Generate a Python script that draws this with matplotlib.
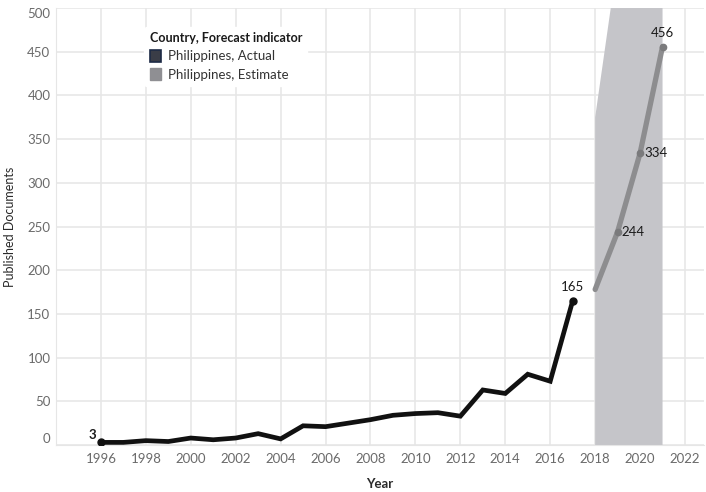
import matplotlib
matplotlib.use("Agg")
import matplotlib.pyplot as plt
from matplotlib.patches import Patch

plt.rcParams['font.family'] = ['Lato', 'DejaVu Sans']

# Philippines published documents, actual counts
years_actual = [1996, 1997, 1998, 1999, 2000, 2001, 2002, 2003, 2004, 2005, 2006,
                2007, 2008, 2009, 2010, 2011, 2012, 2013, 2014, 2015, 2016, 2017]
docs_actual = [3, 3, 5, 4, 8, 6, 8, 13, 7, 22, 21,
               25, 29, 34, 36, 37, 33, 63, 59, 81, 73, 165]

# Forecast estimate with its prediction interval
years_est = [2018, 2019, 2020, 2021]
docs_est = [178, 244, 334, 456]
band_upper = [375, 555, 720, 900]
band_lower = [0, -40, -80, -120]

x_ticks = list(range(1996, 2023, 2))
y_ticks = [0, 50, 100, 150, 200, 250, 300, 350, 400, 450, 500]

c_actual = '#111111'
c_est = '#8d8d8f'
c_band = '#c5c5c9'
c_grid = '#e6e6e6'
c_tick = '#6a6a6a'

fig = plt.figure(figsize=(7.06, 4.92), dpi=100)
ax = fig.add_axes([0.0793, 0.0955, 0.918, 0.888])

ax.fill_between(years_est, band_lower, band_upper, color=c_band, lw=0, zorder=1)
ax.plot(years_actual, docs_actual, color=c_actual, lw=3.4, solid_joinstyle='miter',
        solid_capstyle='round', zorder=3)
ax.plot([years_actual[0], years_actual[-1]], [docs_actual[0], docs_actual[-1]], 'o',
        color=c_actual, ms=5, zorder=4)
ax.plot(years_est, docs_est, color=c_est, lw=3.8, solid_capstyle='round', zorder=3)
ax.plot(years_est[1:], docs_est[1:], 'o', color='#7a7a7c', ms=4.5, zorder=4)

# Value labels
lab = dict(fontsize=9.5, color='#1a1a1a', zorder=5)
ax.text(years_actual[0] - 0.2, docs_actual[0] + 2, str(docs_actual[0]), ha='right', va='bottom',
        fontweight='bold', **lab)
ax.text(years_actual[-1], docs_actual[-1] + 9, str(docs_actual[-1]), ha='center', va='bottom', **lab)
ax.text(years_est[1] + 0.17, docs_est[1], str(docs_est[1]), ha='left', va='center', **lab)
ax.text(years_est[2] + 0.17, docs_est[2], str(docs_est[2]), ha='left', va='center', **lab)
ax.text(years_est[3], docs_est[3] + 9, str(docs_est[3]), ha='center', va='bottom', **lab)

ax.set_xlim(1994, 2022.85)
ax.set_ylim(0, 500)
ax.set_xticks(list(range(1994, 2023, 2)))
ax.set_xticklabels([''] + [str(y) for y in x_ticks])
ax.set_yticks(y_ticks)
ax.set_yticklabels([str(v) for v in y_ticks])
for t in ax.get_yticklabels():
    if t.get_text() == '0':
        t.set_verticalalignment('bottom')
    elif t.get_text() == '500':
        t.set_verticalalignment('top')

ax.grid(True, color=c_grid, lw=1.1, zorder=0)
ax.set_axisbelow(True)
for s in ['top', 'right']:
    ax.spines[s].set_visible(False)
ax.spines['left'].set_color(c_grid)
ax.spines['bottom'].set_color(c_grid)
ax.tick_params(axis='x', length=0, labelsize=9.5, colors=c_tick, pad=6)
ax.tick_params(axis='y', length=0, labelsize=9.5, colors=c_tick, pad=4)

ax.set_xlabel('Year', fontsize=9.5, fontweight='bold', color='#2a2a2a', labelpad=9)
ax.set_ylabel('Published Documents', fontsize=9, color='#2a2a2a')
ax.yaxis.set_label_coords(-0.062, 0.5)

handles = [Patch(facecolor='#3a3d47', edgecolor='#1c2a45', lw=1.2, label='Philippines, Actual'),
           Patch(facecolor='#8f8f93', edgecolor='#8f8f93', label='Philippines, Estimate')]
leg = ax.legend(handles=handles, title='Country, Forecast indicator', loc='upper left',
                bbox_to_anchor=(0.126, 0.972), frameon=True, fontsize=9.5,
                title_fontsize=9, handlelength=0.9, handleheight=0.95, handletextpad=0.5,
                labelspacing=0.45, borderpad=0.4, alignment='left')
leg.get_frame().set_facecolor('white')
leg.get_frame().set_edgecolor('white')
leg.get_frame().set_alpha(1)
leg.get_title().set_fontweight('bold')
leg.get_title().set_color('#1a1a1a')
for t in leg.get_texts():
    t.set_color('#333333')

fig.savefig('out.png', dpi=100)
